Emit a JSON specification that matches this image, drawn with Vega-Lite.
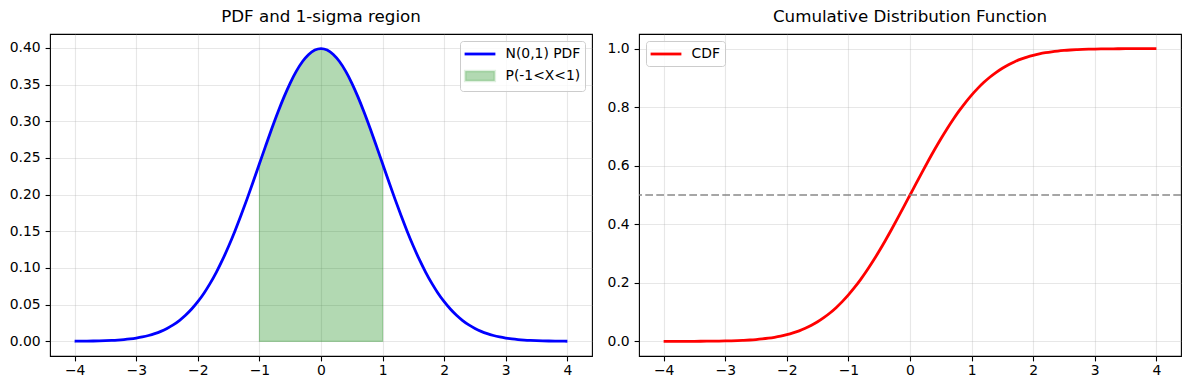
{
  "$schema": "https://vega.github.io/schema/vega-lite/v6.json",
  "background": "white",
  "padding": {"left": 8, "top": 8, "right": 5, "bottom": 5},
  "spacing": 47,
  "bounds": "flush",
  "datasets": {
    "norm": [
      {"x": -4.0, "pdf": 0.000134, "cdf": 0.000032},
      {"x": -3.9, "pdf": 0.000199, "cdf": 0.000048},
      {"x": -3.8, "pdf": 0.000292, "cdf": 0.000072},
      {"x": -3.7, "pdf": 0.000425, "cdf": 0.000108},
      {"x": -3.6, "pdf": 0.000612, "cdf": 0.000159},
      {"x": -3.5, "pdf": 0.000873, "cdf": 0.000233},
      {"x": -3.4, "pdf": 0.001232, "cdf": 0.000337},
      {"x": -3.3, "pdf": 0.001723, "cdf": 0.000483},
      {"x": -3.2, "pdf": 0.002384, "cdf": 0.000687},
      {"x": -3.1, "pdf": 0.003267, "cdf": 0.000968},
      {"x": -3.0, "pdf": 0.004432, "cdf": 0.001350},
      {"x": -2.9, "pdf": 0.005953, "cdf": 0.001866},
      {"x": -2.8, "pdf": 0.007915, "cdf": 0.002555},
      {"x": -2.7, "pdf": 0.010421, "cdf": 0.003467},
      {"x": -2.6, "pdf": 0.013583, "cdf": 0.004661},
      {"x": -2.5, "pdf": 0.017528, "cdf": 0.006210},
      {"x": -2.4, "pdf": 0.022395, "cdf": 0.008198},
      {"x": -2.3, "pdf": 0.028327, "cdf": 0.010724},
      {"x": -2.2, "pdf": 0.035475, "cdf": 0.013903},
      {"x": -2.1, "pdf": 0.043984, "cdf": 0.017864},
      {"x": -2.0, "pdf": 0.053991, "cdf": 0.022750},
      {"x": -1.9, "pdf": 0.065616, "cdf": 0.028717},
      {"x": -1.8, "pdf": 0.078950, "cdf": 0.035930},
      {"x": -1.7, "pdf": 0.094049, "cdf": 0.044565},
      {"x": -1.6, "pdf": 0.110921, "cdf": 0.054799},
      {"x": -1.5, "pdf": 0.129518, "cdf": 0.066807},
      {"x": -1.4, "pdf": 0.149727, "cdf": 0.080757},
      {"x": -1.3, "pdf": 0.171369, "cdf": 0.096800},
      {"x": -1.2, "pdf": 0.194186, "cdf": 0.115070},
      {"x": -1.1, "pdf": 0.217852, "cdf": 0.135666},
      {"x": -1.0, "pdf": 0.241971, "cdf": 0.158655},
      {"x": -0.9, "pdf": 0.266085, "cdf": 0.184060},
      {"x": -0.8, "pdf": 0.289692, "cdf": 0.211855},
      {"x": -0.7, "pdf": 0.312254, "cdf": 0.241964},
      {"x": -0.6, "pdf": 0.333225, "cdf": 0.274253},
      {"x": -0.5, "pdf": 0.352065, "cdf": 0.308538},
      {"x": -0.4, "pdf": 0.368270, "cdf": 0.344578},
      {"x": -0.3, "pdf": 0.381388, "cdf": 0.382089},
      {"x": -0.2, "pdf": 0.391043, "cdf": 0.420740},
      {"x": -0.1, "pdf": 0.396953, "cdf": 0.460172},
      {"x": 0.0, "pdf": 0.398942, "cdf": 0.500000},
      {"x": 0.1, "pdf": 0.396953, "cdf": 0.539828},
      {"x": 0.2, "pdf": 0.391043, "cdf": 0.579260},
      {"x": 0.3, "pdf": 0.381388, "cdf": 0.617911},
      {"x": 0.4, "pdf": 0.368270, "cdf": 0.655422},
      {"x": 0.5, "pdf": 0.352065, "cdf": 0.691462},
      {"x": 0.6, "pdf": 0.333225, "cdf": 0.725747},
      {"x": 0.7, "pdf": 0.312254, "cdf": 0.758036},
      {"x": 0.8, "pdf": 0.289692, "cdf": 0.788145},
      {"x": 0.9, "pdf": 0.266085, "cdf": 0.815940},
      {"x": 1.0, "pdf": 0.241971, "cdf": 0.841345},
      {"x": 1.1, "pdf": 0.217852, "cdf": 0.864334},
      {"x": 1.2, "pdf": 0.194186, "cdf": 0.884930},
      {"x": 1.3, "pdf": 0.171369, "cdf": 0.903200},
      {"x": 1.4, "pdf": 0.149727, "cdf": 0.919243},
      {"x": 1.5, "pdf": 0.129518, "cdf": 0.933193},
      {"x": 1.6, "pdf": 0.110921, "cdf": 0.945201},
      {"x": 1.7, "pdf": 0.094049, "cdf": 0.955435},
      {"x": 1.8, "pdf": 0.078950, "cdf": 0.964070},
      {"x": 1.9, "pdf": 0.065616, "cdf": 0.971283},
      {"x": 2.0, "pdf": 0.053991, "cdf": 0.977250},
      {"x": 2.1, "pdf": 0.043984, "cdf": 0.982136},
      {"x": 2.2, "pdf": 0.035475, "cdf": 0.986097},
      {"x": 2.3, "pdf": 0.028327, "cdf": 0.989276},
      {"x": 2.4, "pdf": 0.022395, "cdf": 0.991802},
      {"x": 2.5, "pdf": 0.017528, "cdf": 0.993790},
      {"x": 2.6, "pdf": 0.013583, "cdf": 0.995339},
      {"x": 2.7, "pdf": 0.010421, "cdf": 0.996533},
      {"x": 2.8, "pdf": 0.007915, "cdf": 0.997445},
      {"x": 2.9, "pdf": 0.005953, "cdf": 0.998134},
      {"x": 3.0, "pdf": 0.004432, "cdf": 0.998650},
      {"x": 3.1, "pdf": 0.003267, "cdf": 0.999032},
      {"x": 3.2, "pdf": 0.002384, "cdf": 0.999313},
      {"x": 3.3, "pdf": 0.001723, "cdf": 0.999517},
      {"x": 3.4, "pdf": 0.001232, "cdf": 0.999663},
      {"x": 3.5, "pdf": 0.000873, "cdf": 0.999767},
      {"x": 3.6, "pdf": 0.000612, "cdf": 0.999841},
      {"x": 3.7, "pdf": 0.000425, "cdf": 0.999892},
      {"x": 3.8, "pdf": 0.000292, "cdf": 0.999928},
      {"x": 3.9, "pdf": 0.000199, "cdf": 0.999952},
      {"x": 4.0, "pdf": 0.000134, "cdf": 0.999968}
    ]
  },
  "data": {"name": "norm"},
  "hconcat": [
    {
      "width": 542,
      "height": 322,
      "title": {"text": "PDF and 1-sigma region"},
      "layer": [
        {
          "transform": [{"filter": "datum.x >= -1 && datum.x <= 1"}],
          "mark": {"type": "area", "color": "green", "fillOpacity": 0.3, "stroke": "green", "strokeOpacity": 0.3, "strokeWidth": 1.1, "interpolate": "monotone"},
          "encoding": {
            "x": {"field": "x", "type": "quantitative", "scale": {"domain": [-4.4, 4.4], "nice": false, "zero": false}, "axis": {"values": [-4, -3, -2, -1, 0, 1, 2, 3, 4], "format": "d"}},
            "y": {"field": "pdf", "type": "quantitative", "scale": {"domain": [-0.02, 0.4189], "nice": false, "zero": false}, "axis": {"values": [0, 0.05, 0.1, 0.15, 0.2, 0.25, 0.3, 0.35, 0.4], "format": ".2f"}},
            "y2": {"datum": 0}
          }
        },
        {
          "mark": {"type": "line", "strokeWidth": 2.8, "interpolate": "monotone"},
          "encoding": {
            "x": {"field": "x", "type": "quantitative"},
            "y": {"field": "pdf", "type": "quantitative"},
            "color": {
              "datum": "N(0,1) PDF",
              "scale": {"domain": ["N(0,1) PDF", "P(-1<X<1)"], "range": ["blue", "green"]},
              "legend": {
                "title": null,
                "orient": "top-right",
                "encode": {
                  "symbols": {
                    "update": {
                      "shape": {"signal": "datum.label === 'N(0,1) PDF' ? 'M-1.0,0H3.0' : 'M-1.1,-0.7H3.1V0.7H-1.1Z'"},
                      "size": {"value": 196},
                      "fill": {"signal": "datum.label === 'N(0,1) PDF' ? 'transparent' : 'green'"},
                      "fillOpacity": {"value": 0.3},
                      "stroke": {"signal": "datum.label === 'N(0,1) PDF' ? 'blue' : 'green'"},
                      "strokeOpacity": {"signal": "datum.label === 'N(0,1) PDF' ? 1 : 0.12"},
                      "strokeWidth": {"value": 2.8},
                      "strokeCap": {"value": "square"},
                      "opacity": {"value": 1}
                    }
                  }
                }
              }
            }
          }
        }
      ]
    },
    {
      "width": 542,
      "height": 322,
      "title": {"text": "Cumulative Distribution Function"},
      "layer": [
        {
          "mark": {"type": "line", "strokeWidth": 2.8, "interpolate": "monotone"},
          "encoding": {
            "x": {"field": "x", "type": "quantitative", "scale": {"domain": [-4.4, 4.4], "nice": false, "zero": false}, "axis": {"values": [-4, -3, -2, -1, 0, 1, 2, 3, 4], "format": "d"}},
            "y": {"field": "cdf", "type": "quantitative", "scale": {"domain": [-0.05, 1.05], "nice": false, "zero": false}, "axis": {"values": [0, 0.2, 0.4, 0.6, 0.8, 1.0], "format": ".1f"}},
            "color": {
              "datum": "CDF",
              "scale": {"domain": ["CDF"], "range": ["red"]},
              "legend": {
                "title": null,
                "orient": "top-left",
                "encode": {
                  "symbols": {
                    "update": {
                      "shape": {"value": "M-1.0,0H3.0"},
                      "size": {"value": 196},
                      "fill": {"value": "transparent"},
                      "stroke": {"value": "red"},
                      "strokeWidth": {"value": 2.8},
                      "strokeCap": {"value": "square"},
                      "opacity": {"value": 1}
                    }
                  }
                }
              }
            }
          }
        },
        {
          "data": {"values": [{"level": 0.5}]},
          "mark": {"type": "rule", "color": "gray", "opacity": 0.7, "strokeDash": [7.7, 3.3], "strokeWidth": 2.1},
          "encoding": {
            "y": {"field": "level", "type": "quantitative"}
          }
        }
      ]
    }
  ],
  "resolve": {"scale": {"x": "independent", "y": "independent", "color": "independent"}},
  "config": {
    "font": "DejaVu Sans",
    "view": {"stroke": "black", "strokeWidth": 1.1},
    "title": {"font": "DejaVu Sans", "fontSize": 16.7, "fontWeight": "normal", "color": "black", "offset": 8.3, "baseline": "alphabetic"},
    "legend": {
      "offset": 7,
      "padding": 4.5,
      "strokeColor": "#cccccc",
      "fillColor": "rgba(255,255,255,0.8)",
      "cornerRadius": 3,
      "labelFont": "DejaVu Sans",
      "labelFontSize": 13.9,
      "labelColor": "black",
      "symbolSize": 196,
      "symbolStrokeWidth": 2.8,
      "labelOffset": 24,
      "rowPadding": 4
    },
    "axis": {
      "title": null,
      "domain": false,
      "labelFont": "DejaVu Sans",
      "labelFontSize": 13.9,
      "labelColor": "black",
      "tickColor": "black",
      "tickSize": 4.9,
      "tickWidth": 1.1,
      "labelPadding": 4.9,
      "grid": true,
      "gridColor": "#b0b0b0",
      "gridOpacity": 0.3,
      "gridWidth": 1.1
    },
    "axisX": {"labelPadding": 2.5}
  }
}
